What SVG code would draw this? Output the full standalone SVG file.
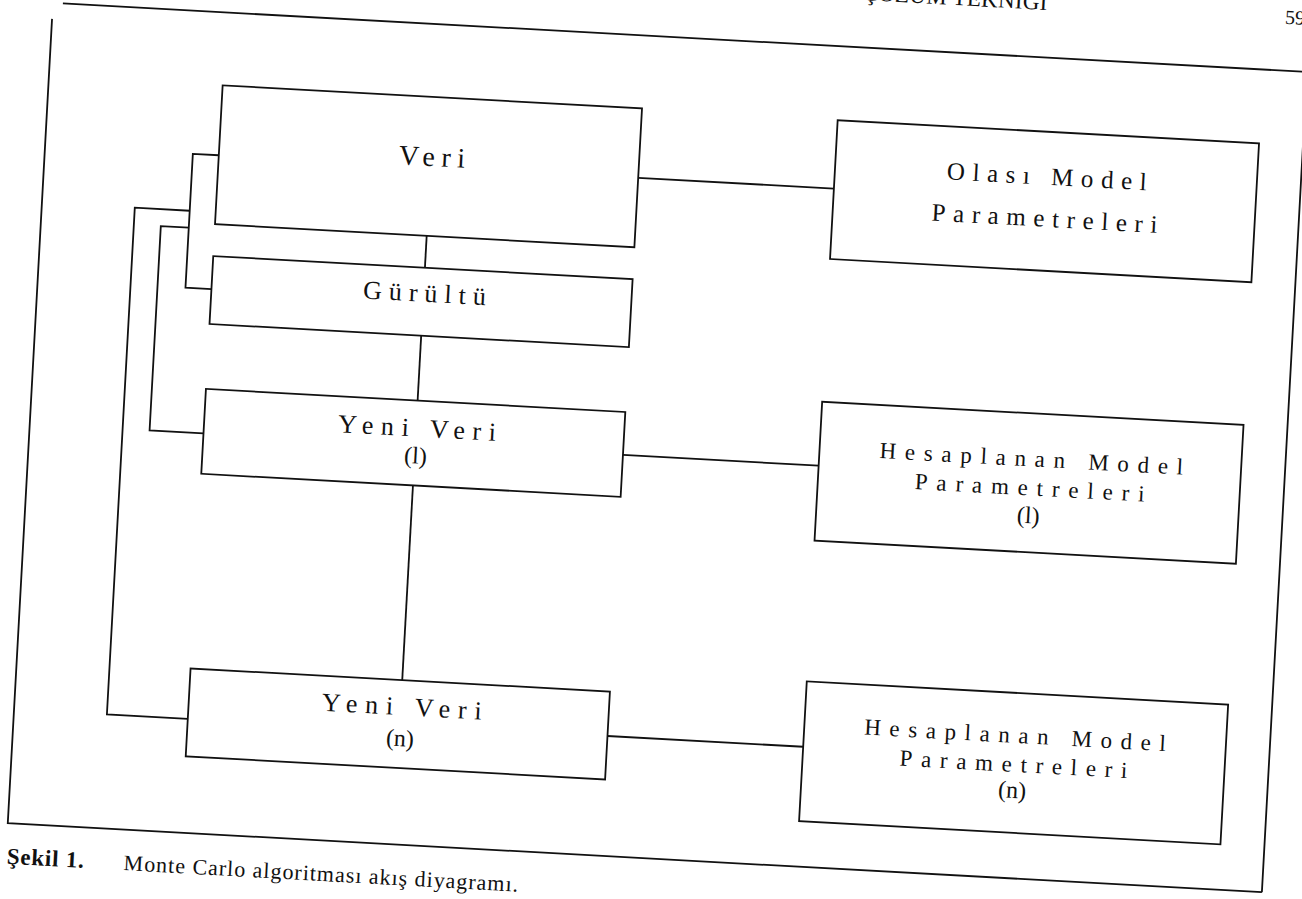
<svg xmlns="http://www.w3.org/2000/svg" width="1302" height="899" viewBox="0 0 1302 899">
<style>
.box{fill:none;stroke:#111;stroke-width:1.8}
.ln{fill:none;stroke:#111;stroke-width:1.8}
.lbl{font-family:"Liberation Serif","Times New Roman",serif;fill:#111;text-anchor:middle}
.f28{font-size:28px}
.f26{font-size:26px}
.f25{font-size:25px}
.f24{font-size:24px}
.f23{font-size:23px}
.cap{font-family:"Liberation Serif","Times New Roman",serif;fill:#111}
</style>
<rect x="0" y="0" width="1302" height="899" fill="#fff"/>
<g transform="rotate(3.15)">
  <g id="page">
    <text class="cap f23" x="861" y="-47.5" textLength="185" lengthAdjust="spacing">ÇÖZÜM TEKNİĞİ</text>
    <text class="cap" x="1284" y="-47" style="font-size:20px">59</text>
    <path class="ln" d="M63,0 H1309 M53,16 V821.5 H1309 M1309,40 V821.5"/>
    <text class="cap f23" x="54" y="862" font-weight="bold" textLength="77" lengthAdjust="spacing">Şekil 1.</text>
    <text class="cap" x="171" y="862" style="font-size:22px" textLength="395" lengthAdjust="spacing">Monte Carlo algoritması akış diyagramı.</text>
  </g>
  <g id="connectors">
    <path class="ln" d="M647,142.5 H843"/>
    <path class="ln" d="M439,212 V244"/>
    <path class="ln" d="M439,312 V377"/>
    <path class="ln" d="M647,420 H843"/>
    <path class="ln" d="M439,462 V657"/>
    <path class="ln" d="M647,701.5 H843"/>
    <path class="ln" d="M227,143 H201 V277 H227"/>
    <path class="ln" d="M201,217 H173 V421.5 H227"/>
    <path class="ln" d="M201,200 H146 V707.5 H227"/>
  </g>
  <g id="node-veri">
    <rect class="box" x="227" y="73" width="420" height="139"/>
    <text class="lbl f28" x="440" y="142" textLength="66" lengthAdjust="spacing">Veri</text>
  </g>
  <g id="node-gurultu">
    <rect class="box" x="227" y="244" width="420" height="68"/>
    <text class="lbl f26" x="440" y="278" textLength="123" lengthAdjust="spacing">Gürültü</text>
  </g>
  <g id="node-yeni-veri-1">
    <rect class="box" x="227" y="377" width="420" height="85"/>
    <text class="lbl f26" x="440" y="413" textLength="158" lengthAdjust="spacing">Yeni Veri</text>
    <text class="lbl f24" x="440" y="440">(l)</text>
  </g>
  <g id="node-yeni-veri-n">
    <rect class="box" x="227" y="657" width="420" height="88"/>
    <text class="lbl f26" x="440" y="692" textLength="160" lengthAdjust="spacing">Yeni Veri</text>
    <text class="lbl f24" x="440" y="723">(n)</text>
  </g>
  <g id="node-olasi-model">
    <rect class="box" x="843" y="74" width="422" height="139"/>
    <text class="lbl f25" x="1055" y="127" textLength="200" lengthAdjust="spacing">Olası Model</text>
    <text class="lbl f25" x="1055" y="169" textLength="226" lengthAdjust="spacing">Parametreleri</text>
  </g>
  <g id="node-hesaplanan-1">
    <rect class="box" x="843" y="356" width="422" height="139"/>
    <text class="lbl f23" x="1055" y="409" textLength="304" lengthAdjust="spacing">Hesaplanan Model</text>
    <text class="lbl f23" x="1055" y="438" textLength="230" lengthAdjust="spacing">Parametreleri</text>
    <text class="lbl f24" x="1055" y="466">(l)</text>
  </g>
  <g id="node-hesaplanan-n">
    <rect class="box" x="843" y="636" width="422" height="140"/>
    <text class="lbl f23" x="1054" y="686" textLength="302" lengthAdjust="spacing">Hesaplanan Model</text>
    <text class="lbl f23" x="1054" y="715" textLength="228" lengthAdjust="spacing">Parametreleri</text>
    <text class="lbl f24" x="1054" y="741">(n)</text>
  </g>
</g>
</svg>
